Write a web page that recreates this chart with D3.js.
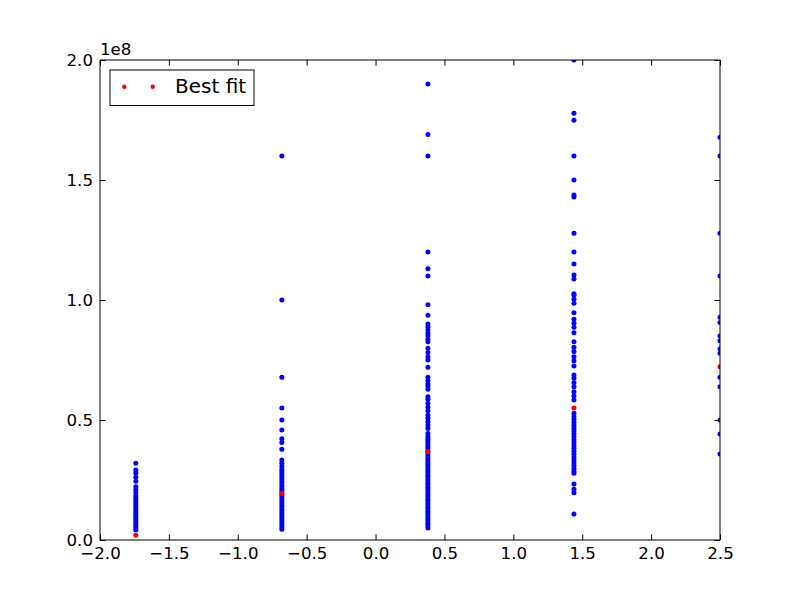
<!DOCTYPE html>
<html>
<head>
<meta charset="utf-8">
<script src="https://cdn.jsdelivr.net/npm/d3@7"></script>
<style>
  body { margin: 0; background: #fff; }
  text { font-family: "DejaVu Sans", sans-serif; }
</style>
</head>
<body>
<div id="grafico"></div>
<script>
// x positions of the five groups
var grupos = [-1.74, -0.68, 0.38, 1.44, 2.5];

// blue points per group, values in units of 1e6
var col1 = [32, 29.2, 27.8, 26.1, 24.5, 22.2, 20.8, 19.7, 18.4, 17.4, 16.5, 15.6, 14.7, 13.8, 12.9, 12, 11.1,
  10.2, 9.3, 8.4, 7.5, 6.6, 5.7, 4.8, 4.2];
var col2 = [160, 100, 67.8, 55, 50, 45.8, 42.2, 40.6, 37.8, 33.3, 32, 30.6, 29.4, 28.4, 27.4, 26.4, 25.4,
  24.4, 23.4, 22.4, 21.4, 20.4, 19.4, 18.4, 17.4, 16.4, 15.4, 14.4, 13.4, 12.4, 11.4, 10.4, 9.4, 8.4,
  7.4, 6.4, 5.4, 4.5];
var col3 = [190, 169, 160, 120, 113, 110, 98, 93.6, 90, 88.9, 87.5, 86.1, 85, 83.6, 82.6, 79.9, 78.1, 76.4,
  75, 72, 67.8, 66.4, 65, 64.2, 62.8, 59.7, 58.6, 57, 55.3, 53.9, 52, 50.7, 49.3, 47.9, 46.5, 44.4, 43,
  42, 41, 40, 39, 38, 37, 36, 35, 34, 33, 32, 31, 30, 29, 28, 27, 26, 25, 24, 23, 22, 21, 20, 19, 18, 17,
  16, 15, 14, 13, 12, 11, 10, 9, 8, 7, 6, 5];
var col4 = [200, 177.8, 174.9, 160, 150, 143.8, 142.9, 127.8, 120, 115, 110.4, 108.8, 102.6, 102, 100.3,
  98.6, 94.7, 92, 90.3, 88.6, 86.4, 82.6, 80.3, 78.5, 76.4, 74.7, 72.5, 68.8, 67.4, 65.5, 63.9, 61.8, 60,
  58.3, 52.8, 51.4, 50.2, 49, 47.8, 46.6, 45.4, 44.2, 43, 41.8, 40.6, 39.4, 38.2, 37, 35.8, 34.6, 33.4,
  32.2, 31, 29.8, 28.6, 27.8, 23.3, 21.1, 19.7, 10.8];
var col5 = [167.8, 160, 127.8, 110, 92.8, 90.6, 85, 83, 79.7, 77.8, 67.8, 63.9, 50, 44.2, 35.8];
var puntosAzules = [col1, col2, col3, col4, col5];

// red "Best fit" points per group, units of 1e6
var mejorAjuste = [2.0, 19.4, 36.8, 55, 72.2];

var xTicks = [-2.0, -1.5, -1.0, -0.5, 0.0, 0.5, 1.0, 1.5, 2.0, 2.5];
var xTickLabels = ["\u22122.0", "\u22121.5", "\u22121.0", "\u22120.5", "0.0", "0.5", "1.0", "1.5", "2.0", "2.5"];
var yTicks = [0, 0.5e8, 1.0e8, 1.5e8, 2.0e8];
var yTickLabels = ["0.0", "0.5", "1.0", "1.5", "2.0"];

var svgWidth = 800;
var svgHeight = 600;
var margin = { top: 60, right: 80, bottom: 60, left: 100 };
var chartWidth = svgWidth - margin.left - margin.right;
var chartHeight = svgHeight - margin.top - margin.bottom;
var fontSize = 16.67;
var tickLen = 5.6;

var svg = d3.select("#grafico")
  .append("svg")
  .attr("width", svgWidth)
  .attr("height", svgHeight);

var xScale = d3.scaleLinear().domain([-2.0, 2.5]).range([0, chartWidth]);
var yScale = d3.scaleLinear().domain([0, 2.0e8]).range([chartHeight, 0]);

var chart = svg.append("g")
  .attr("transform", "translate(" + margin.left + "," + margin.top + ")");

chart.append("clipPath").attr("id", "clip")
  .append("rect")
  .attr("width", chartWidth)
  .attr("height", chartHeight);

// data points
var puntos = [];
puntosAzules.forEach(function (col, i) {
  col.forEach(function (v) { puntos.push({ x: grupos[i], y: v * 1e6 }); });
});

var plot = chart.append("g").attr("clip-path", "url(#clip)");

plot.selectAll(".azul")
  .data(puntos)
  .enter()
  .append("circle")
  .attr("class", "azul")
  .attr("cx", d => xScale(d.x))
  .attr("cy", d => yScale(d.y))
  .attr("r", 2.5)
  .attr("fill", "#0000ff");

plot.selectAll(".rojo")
  .data(mejorAjuste)
  .enter()
  .append("circle")
  .attr("class", "rojo")
  .attr("cx", (d, i) => xScale(grupos[i]))
  .attr("cy", d => yScale(d * 1e6))
  .attr("r", 2.5)
  .attr("fill", "#ff0000");

// axes: inward ticks on all four sides
var xAxisBottom = d3.axisBottom(xScale).tickValues(xTicks)
  .tickFormat((d, i) => xTickLabels[i]).tickSizeInner(-tickLen).tickSizeOuter(0).tickPadding(7);
var xAxisTop = d3.axisTop(xScale).tickValues(xTicks)
  .tickFormat("").tickSizeInner(-tickLen).tickSizeOuter(0);
var yAxisLeft = d3.axisLeft(yScale).tickValues(yTicks)
  .tickFormat((d, i) => yTickLabels[i]).tickSizeInner(-tickLen).tickSizeOuter(0).tickPadding(7);
var yAxisRight = d3.axisRight(yScale).tickValues(yTicks)
  .tickFormat("").tickSizeInner(-tickLen).tickSizeOuter(0);

var gx = chart.append("g").attr("transform", "translate(0," + chartHeight + ")").call(xAxisBottom);
var gxt = chart.append("g").call(xAxisTop);
var gy = chart.append("g").call(yAxisLeft);
var gyr = chart.append("g").attr("transform", "translate(" + chartWidth + ",0)").call(yAxisRight);

[gx, gxt, gy, gyr].forEach(function (g) {
  g.select(".domain").remove();
  g.selectAll(".tick line").attr("stroke", "#000").attr("stroke-width", 1);
  g.selectAll("text").attr("font-family", "DejaVu Sans").attr("font-size", fontSize).attr("fill", "#000");
});

// frame
chart.append("rect")
  .attr("width", chartWidth)
  .attr("height", chartHeight)
  .attr("fill", "none")
  .attr("stroke", "#000")
  .attr("stroke-width", 1);

// offset label
chart.append("text")
  .attr("x", 0)
  .attr("y", -5)
  .attr("font-size", fontSize)
  .text("1e8");

// legend
var legend = chart.append("g").attr("transform", "translate(10,10)");
legend.append("rect")
  .attr("width", 144)
  .attr("height", 35.5)
  .attr("fill", "#fff")
  .attr("stroke", "#000")
  .attr("stroke-width", 1);
legend.selectAll("circle")
  .data([14.3, 42.7])
  .enter()
  .append("circle")
  .attr("cx", d => d)
  .attr("cy", 16.7)
  .attr("r", 2.2)
  .attr("fill", "#ff0000");
legend.append("text")
  .attr("x", 65)
  .attr("y", 22.5)
  .attr("font-size", 20)
  .text("Best fit");
</script>
</body>
</html>
